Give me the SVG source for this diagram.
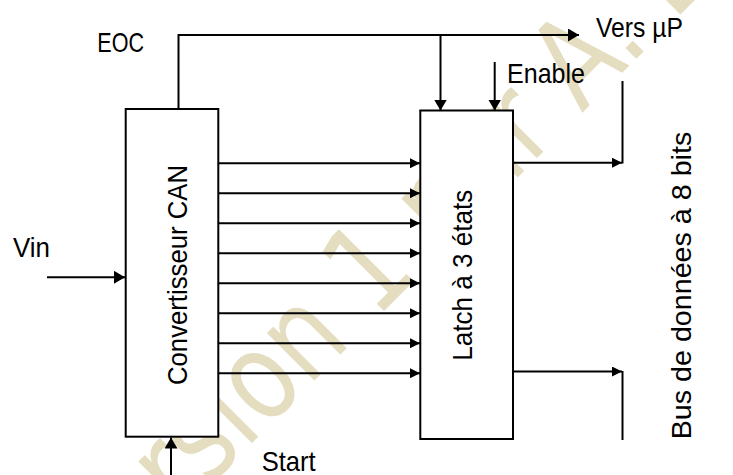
<svg xmlns="http://www.w3.org/2000/svg" width="733" height="475" viewBox="0 0 733 475">
<defs>
<style>
.lbl{font-family:"Liberation Sans","Open Sans",sans-serif;font-size:28px;fill:#000}
.ln{fill:none;stroke:#000;stroke-width:2}
.box{fill:#fff;stroke:#000;stroke-width:2}
.wm{font-family:"DejaVu Sans","Liberation Sans",sans-serif;font-stretch:condensed;font-size:123px;fill:#e4ddc0}
</style>
<marker id="ah" markerUnits="userSpaceOnUse" markerWidth="12" markerHeight="13" refX="11" refY="6.5" orient="auto"><path d="M0,0 L11,6.5 L0,13 z" fill="#000"/></marker>
<marker id="ahs" markerUnits="userSpaceOnUse" markerWidth="11" markerHeight="10" refX="10" refY="5" orient="auto"><path d="M0,0 L10,5 L0,10 z" fill="#000"/></marker>
</defs>
<rect width="733" height="475" fill="#fff"/>
<text class="wm" transform="translate(94,601) rotate(-45)" textLength="875" lengthAdjust="spacingAndGlyphs">Version 1 par A. L</text>
<g id="connectors">
<path class="ln" d="M178.5,109 V35 H579" marker-end="url(#ah)"/>
<path class="ln" d="M440.5,35 V110.5" marker-end="url(#ah)"/>
<path class="ln" d="M494.7,62 V110.5" marker-end="url(#ah)"/>
<path class="ln" d="M47,277.3 H125" marker-end="url(#ah)"/>
<path class="ln" d="M171,475 V437.5" marker-end="url(#ah)"/>
<path class="ln" d="M218,163.3 H420" marker-end="url(#ahs)"/>
<path class="ln" d="M218,193.3 H420" marker-end="url(#ahs)"/>
<path class="ln" d="M218,223.3 H420" marker-end="url(#ahs)"/>
<path class="ln" d="M218,253.3 H420" marker-end="url(#ahs)"/>
<path class="ln" d="M218,283.3 H420" marker-end="url(#ahs)"/>
<path class="ln" d="M218,313.3 H420" marker-end="url(#ahs)"/>
<path class="ln" d="M218,343.3 H420" marker-end="url(#ahs)"/>
<path class="ln" d="M218,373.3 H420" marker-end="url(#ahs)"/>
<path class="ln" d="M513,162.7 H622" marker-end="url(#ahs)"/>
<path class="ln" d="M513,371.5 H622" marker-end="url(#ahs)"/>
<path class="ln" d="M622.5,81 V163.5"/>
<path class="ln" d="M622.5,371 V440"/>
</g>
<g id="can">
<rect class="box" x="125.7" y="109" width="92.6" height="327.7"/>
<text class="lbl" transform="translate(186.5,385) rotate(-90)" textLength="220" lengthAdjust="spacingAndGlyphs">Convertisseur CAN</text>
</g>
<g id="latch">
<rect class="box" x="420.3" y="110.5" width="92.7" height="328.5"/>
<text class="lbl" transform="translate(471.5,360.7) rotate(-90)" textLength="171" lengthAdjust="spacingAndGlyphs">Latch à 3 états</text>
</g>
<g id="labels">
<text class="lbl" x="97.3" y="52.3" textLength="46.7" lengthAdjust="spacingAndGlyphs">EOC</text>
<text class="lbl" x="596" y="36.5" textLength="87" lengthAdjust="spacingAndGlyphs">Vers µP</text>
<text class="lbl" x="507" y="82.7" textLength="78" lengthAdjust="spacingAndGlyphs">Enable</text>
<text class="lbl" x="13" y="257.3" textLength="37" lengthAdjust="spacingAndGlyphs">Vin</text>
<text class="lbl" x="261.7" y="471" textLength="54" lengthAdjust="spacingAndGlyphs">Start</text>
<text class="lbl" transform="translate(691,439.3) rotate(-90)" textLength="307.6" lengthAdjust="spacingAndGlyphs">Bus de données à 8 bits</text>
</g>
</svg>
